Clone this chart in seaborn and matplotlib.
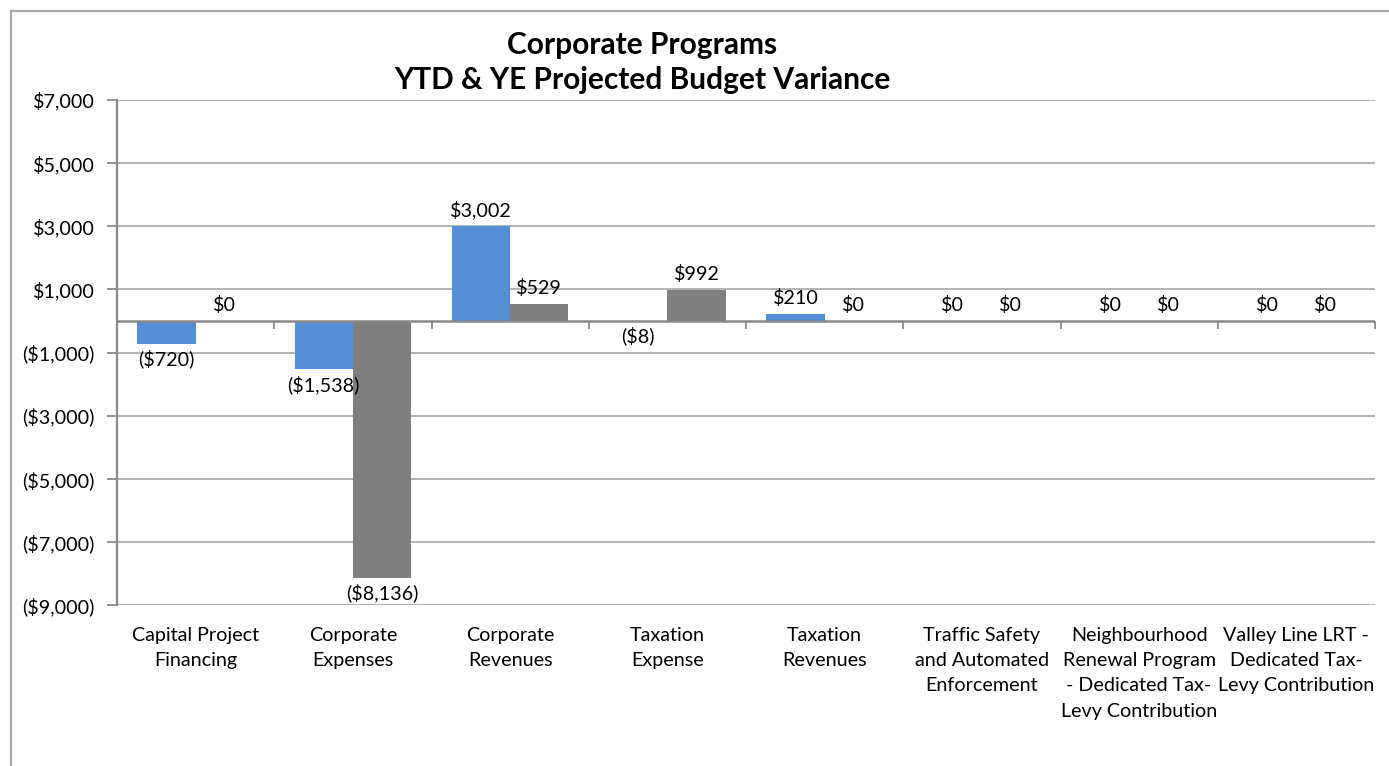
import matplotlib
matplotlib.use("Agg")
import matplotlib.pyplot as plt
import matplotlib.markers as mmarkers
from matplotlib.patches import Rectangle
import seaborn as sns
import pandas as pd

# Budget variance by program ($ thousands)
categories = [
    "Capital Project\nFinancing",
    "Corporate\nExpenses",
    "Corporate\nRevenues",
    "Taxation\nExpense",
    "Taxation\nRevenues",
    "Traffic Safety\nand Automated\nEnforcement",
    "Neighbourhood\nRenewal Program\n- Dedicated Tax-\nLevy Contribution",
    "Valley Line LRT -\nDedicated Tax-\nLevy Contribution",
]
ytd_variance = [-720, -1538, 3002, -8, 210, 0, 0, 0]
ye_projected = [0, -8136, 529, 992, 0, 0, 0, 0]
series_names = ["YTD Variance", "YE Projected Variance"]
y_ticks = [7000, 5000, 3000, 1000, -1000, -3000, -5000, -7000, -9000]

df = pd.DataFrame({
    "Program": categories * 2,
    "Variance": ytd_variance + ye_projected,
    "Series": [series_names[0]] * len(categories) + [series_names[1]] * len(categories),
})

sns.set_theme(style="white")
plt.rcParams["font.family"] = ["Lato", "DejaVu Sans"]

FS = 14.2

fig = plt.figure(figsize=(13.89, 7.66), dpi=100)
ax = fig.add_axes([117 / 1389, 1 - 605 / 766, (1375 - 117) / 1389, (605 - 100) / 766])

palette = {series_names[0]: "#558ED5", series_names[1]: "#7F7F7F"}
sns.barplot(data=df, x="Program", y="Variance", hue="Series", order=categories,
            hue_order=series_names, palette=palette, width=0.74, saturation=1,
            legend=False, ax=ax, linewidth=0, errorbar=None)

ax.set_ylim(-9000, 7000)
ax.set_xlim(-0.5, len(categories) - 0.5)
ax.set_yticks(y_ticks)


def money(v):
    if v < 0:
        return f"(${abs(v):,.0f})"
    return f"${v:,.0f}"


ax.set_yticklabels([money(v) for v in y_ticks], fontsize=FS, color="black")
ax.tick_params(axis="y", length=7, width=1.3, color="#898989", pad=9, left=True)
ax.tick_params(axis="x", length=0, pad=16, labelsize=FS, labelcolor="black")
ax.set_xlabel("")
ax.set_ylabel("")

# horizontal gridlines
ax.yaxis.grid(True, color="#a6a6a6", linewidth=1.2)
ax.set_axisbelow(True)
for side in ["top", "right", "bottom"]:
    ax.spines[side].set_visible(False)
ax.spines["left"].set_color("#898989")
ax.spines["left"].set_linewidth(1.6)

# category axis along zero with boundary ticks
ax.axhline(0, color="#898989", linewidth=1.8, zorder=3)
bounds = [i - 0.5 for i in range(len(categories) + 1)]
ax.plot(bounds, [0] * len(bounds), linestyle="none", marker=mmarkers.TICKDOWN,
        markersize=6, markeredgewidth=1.3, color="#898989", zorder=3, clip_on=False)

# value labels at bar ends
for container, values in zip(ax.containers, [ytd_variance, ye_projected]):
    for patch, v in zip(container.patches, values):
        xc = patch.get_x() + patch.get_width() / 2
        if v >= 0:
            ax.annotate(money(v), (xc, v), xytext=(0, 5), textcoords="offset points",
                        ha="center", va="bottom", fontsize=FS, color="black")
        else:
            ax.annotate(money(v), (xc, v), xytext=(0, -4), textcoords="offset points",
                        ha="center", va="top", fontsize=FS, color="black")

fig.text(642 / 1389, 1 - 45 / 766, "Corporate Programs", ha="center", va="center",
         fontsize=21.5, fontweight="bold", color="black")
fig.text(642 / 1389, 1 - 80 / 766, "YTD & YE Projected Budget Variance", ha="center",
         va="center", fontsize=21.5, fontweight="bold", color="black")

# chart frame
fig.patches.append(Rectangle((11 / 1389, -0.05), 1.2, 1 - 11 / 766 + 0.05,
                             transform=fig.transFigure, fill=False,
                             edgecolor="#a6a6a6", linewidth=1.5))

# wider line spacing for the wrapped category names (ticks exist after a draw)
fig.canvas.draw()
for lbl in ax.get_xticklabels():
    lbl.set_linespacing(1.58)
    lbl.set_multialignment("center")

fig.savefig("out.png", dpi=100)
